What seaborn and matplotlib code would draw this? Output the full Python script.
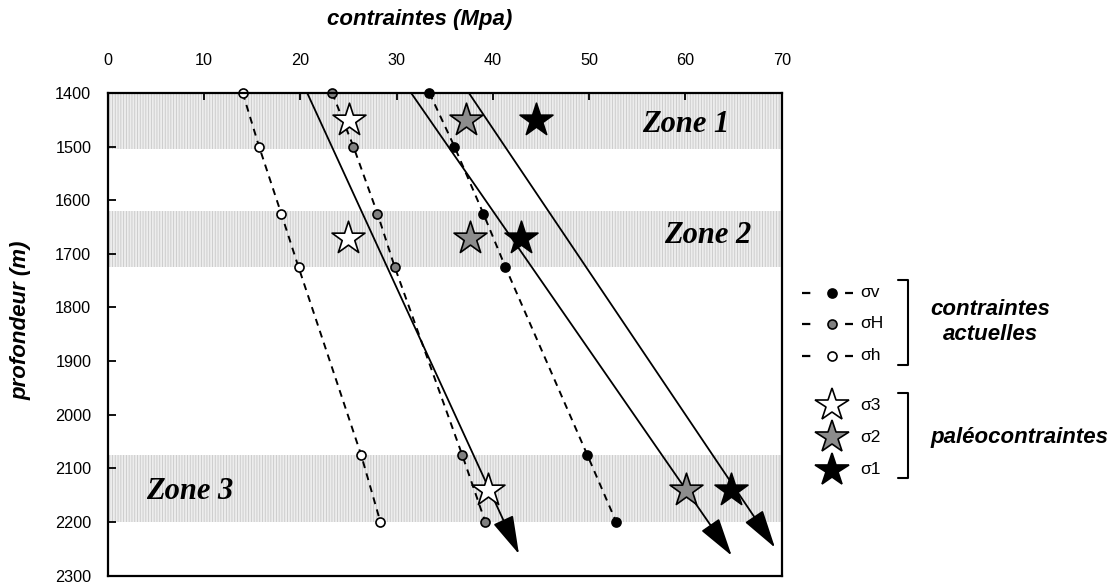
import matplotlib
matplotlib.use("Agg")
import matplotlib.pyplot as plt
import pandas as pd
import seaborn as sns

# depths (m) and present-day stresses (MPa)
depth = [1400, 1500, 1625, 1725, 2075, 2200]
sigma_v = [33.4, 36.0, 39.0, 41.3, 49.8, 52.8]
sigma_H = [23.3, 25.5, 28.0, 29.8, 36.8, 39.2]
sigma_h = [14.0, 15.7, 18.0, 19.8, 26.3, 28.3]

# paleo-stress stars, one per zone
star_depth = [1450, 1670, 2140]
sigma_3 = [25.0, 24.9, 39.5]
sigma_2 = [37.2, 37.6, 60.1]
sigma_1 = [44.5, 42.9, 64.7]

# trend arrows (start at 1400 m)
arrow_x0 = [20.7, 31.5, 37.5]
arrow_d0 = [1400, 1400, 1400]
arrow_x1 = [42.7, 64.8, 69.3]
arrow_d1 = [2260, 2263, 2248]

# shaded zones
zone_names = ["Zone 1", "Zone 2", "Zone 3"]
zone_top = [1400, 1620, 2075]
zone_bottom = [1505, 1725, 2200]
zone_label_x = [60.0, 62.3, 8.5]
zone_label_d = [1472, 1680, 2158]

x_ticks = [0, 10, 20, 30, 40, 50, 60, 70]
y_ticks = [1400, 1500, 1600, 1700, 1800, 1900, 2000, 2100, 2200, 2300]

sns.set_style("white")
plt.rcParams["font.family"] = ["Liberation Sans", "DejaVu Sans"]
plt.rcParams["lines.scale_dashes"] = False
plt.rcParams["hatch.linewidth"] = 0.6
for k in ["text.color", "xtick.color", "ytick.color", "axes.labelcolor"]:
    plt.rcParams[k] = "black"

W, H = 1119, 583
fig = plt.figure(figsize=(W / 100, H / 100), dpi=100)
L, R, T, B = 108, 781.7, 93, 575.5
ax = fig.add_axes([L / W, 1 - B / H, (R - L) / W, (B - T) / H])

# zones
for top, bot in zip(zone_top, zone_bottom):
    ax.axhspan(top, bot, facecolor="#ededed", edgecolor="#c8c8c8",
               hatch="||||||", lw=0, zorder=0)

# present-day stresses
df = pd.DataFrame({"depth": depth, "sv": sigma_v, "sH": sigma_H, "sh": sigma_h})
for col, fill in [("sv", "black"), ("sH", "#808080"), ("sh", "white")]:
    sns.lineplot(data=df, x=col, y="depth", ax=ax, sort=False, estimator=None,
                 color="black", lw=1.4, linestyle=(0, (5, 4)), marker="o",
                 markersize=6.5, markerfacecolor=fill, markeredgecolor="black",
                 markeredgewidth=1.2, legend=False, zorder=2, clip_on=False)

# trend arrows
for x0, d0, x1, d1 in zip(arrow_x0, arrow_d0, arrow_x1, arrow_d1):
    ax.annotate("", xy=(x1, d1), xytext=(x0, d0),
                arrowprops=dict(arrowstyle="-|>,head_length=1.2,head_width=0.34",
                                mutation_scale=20, lw=1.3, color="black",
                                shrinkA=0, shrinkB=0), zorder=3)

# paleo-stresses
sdf = pd.DataFrame({"depth": star_depth, "s3": sigma_3, "s2": sigma_2, "s1": sigma_1})
for col, fill in [("s3", "white"), ("s2", "#8c8c8c"), ("s1", "black")]:
    sns.scatterplot(data=sdf, x=col, y="depth", ax=ax, marker="*", s=620,
                    color=fill, edgecolor="black", linewidth=1.2,
                    legend=False, zorder=4)

for name, zx, zd in zip(zone_names, zone_label_x, zone_label_d):
    ax.text(zx, zd, name, ha="center", va="baseline", fontsize=22,
            family="Liberation Serif", fontweight="bold", fontstyle="italic",
            color="black", zorder=5)

ax.set_xlim(0, 70)
ax.set_ylim(2300, 1400)
ax.xaxis.tick_top()
ax.set_xticks(x_ticks)
ax.set_yticks(y_ticks)
ax.tick_params(axis="x", direction="in", length=5, width=1.3, pad=18,
               labelsize=11.7, top=True, bottom=False)
ax.tick_params(axis="y", direction="in", length=5.5, width=1.3, pad=12,
               labelsize=11.7, left=True, right=False)
ax.set_xlabel("")
ax.set_ylabel("")
for sp in ax.spines.values():
    sp.set_linewidth(1.6)
    sp.set_color("black")

fig.text(420 / W, 1 - 20 / H, "contraintes (Mpa)", ha="center", va="center",
         fontsize=16, fontweight="bold", fontstyle="italic")
fig.text(21 / W, 1 - 320 / H, "profondeur (m)", ha="center", va="center",
         rotation=90, fontsize=16, fontweight="bold", fontstyle="italic")

# legend drawn in pixel space
lg = fig.add_axes([0, 0, 1, 1], zorder=10)
lg.set_xlim(0, W)
lg.set_ylim(H, 0)
lg.axis("off")

for y, fill, lab in [(292.7, "black", "σv"), (324, "#808080", "σH"), (356, "white", "σh")]:
    lg.plot([802, 853], [y, y], color="black", lw=1.6, dashes=(6, 25))
    lg.plot([832], [y], marker="o", markersize=6.5, markerfacecolor=fill,
            markeredgecolor="black", markeredgewidth=1.2, ls="none")
    lg.text(860, y, lab, ha="left", va="center", fontsize=12.5)

for y, fill, lab in [(405, "white", "σ3"), (437, "#8c8c8c", "σ2"), (470, "black", "σ1")]:
    lg.plot([832], [y], marker="*", markersize=25, markerfacecolor=fill,
            markeredgecolor="black", markeredgewidth=1.2, ls="none")
    lg.text(860, y, lab, ha="left", va="center", fontsize=12.5)

for y0, y1 in [(280, 365), (393, 478)]:
    lg.plot([898, 908, 908, 898], [y0, y0, y1, y1], color="black", lw=1.5)

lg.text(990, 322, "contraintes\nactuelles", ha="center", va="center",
        fontsize=16, fontweight="bold", fontstyle="italic", linespacing=1.2)
lg.text(930, 437, "paléocontraintes", ha="left", va="center",
        fontsize=16, fontweight="bold", fontstyle="italic")

fig.savefig("out.png", dpi=100)
